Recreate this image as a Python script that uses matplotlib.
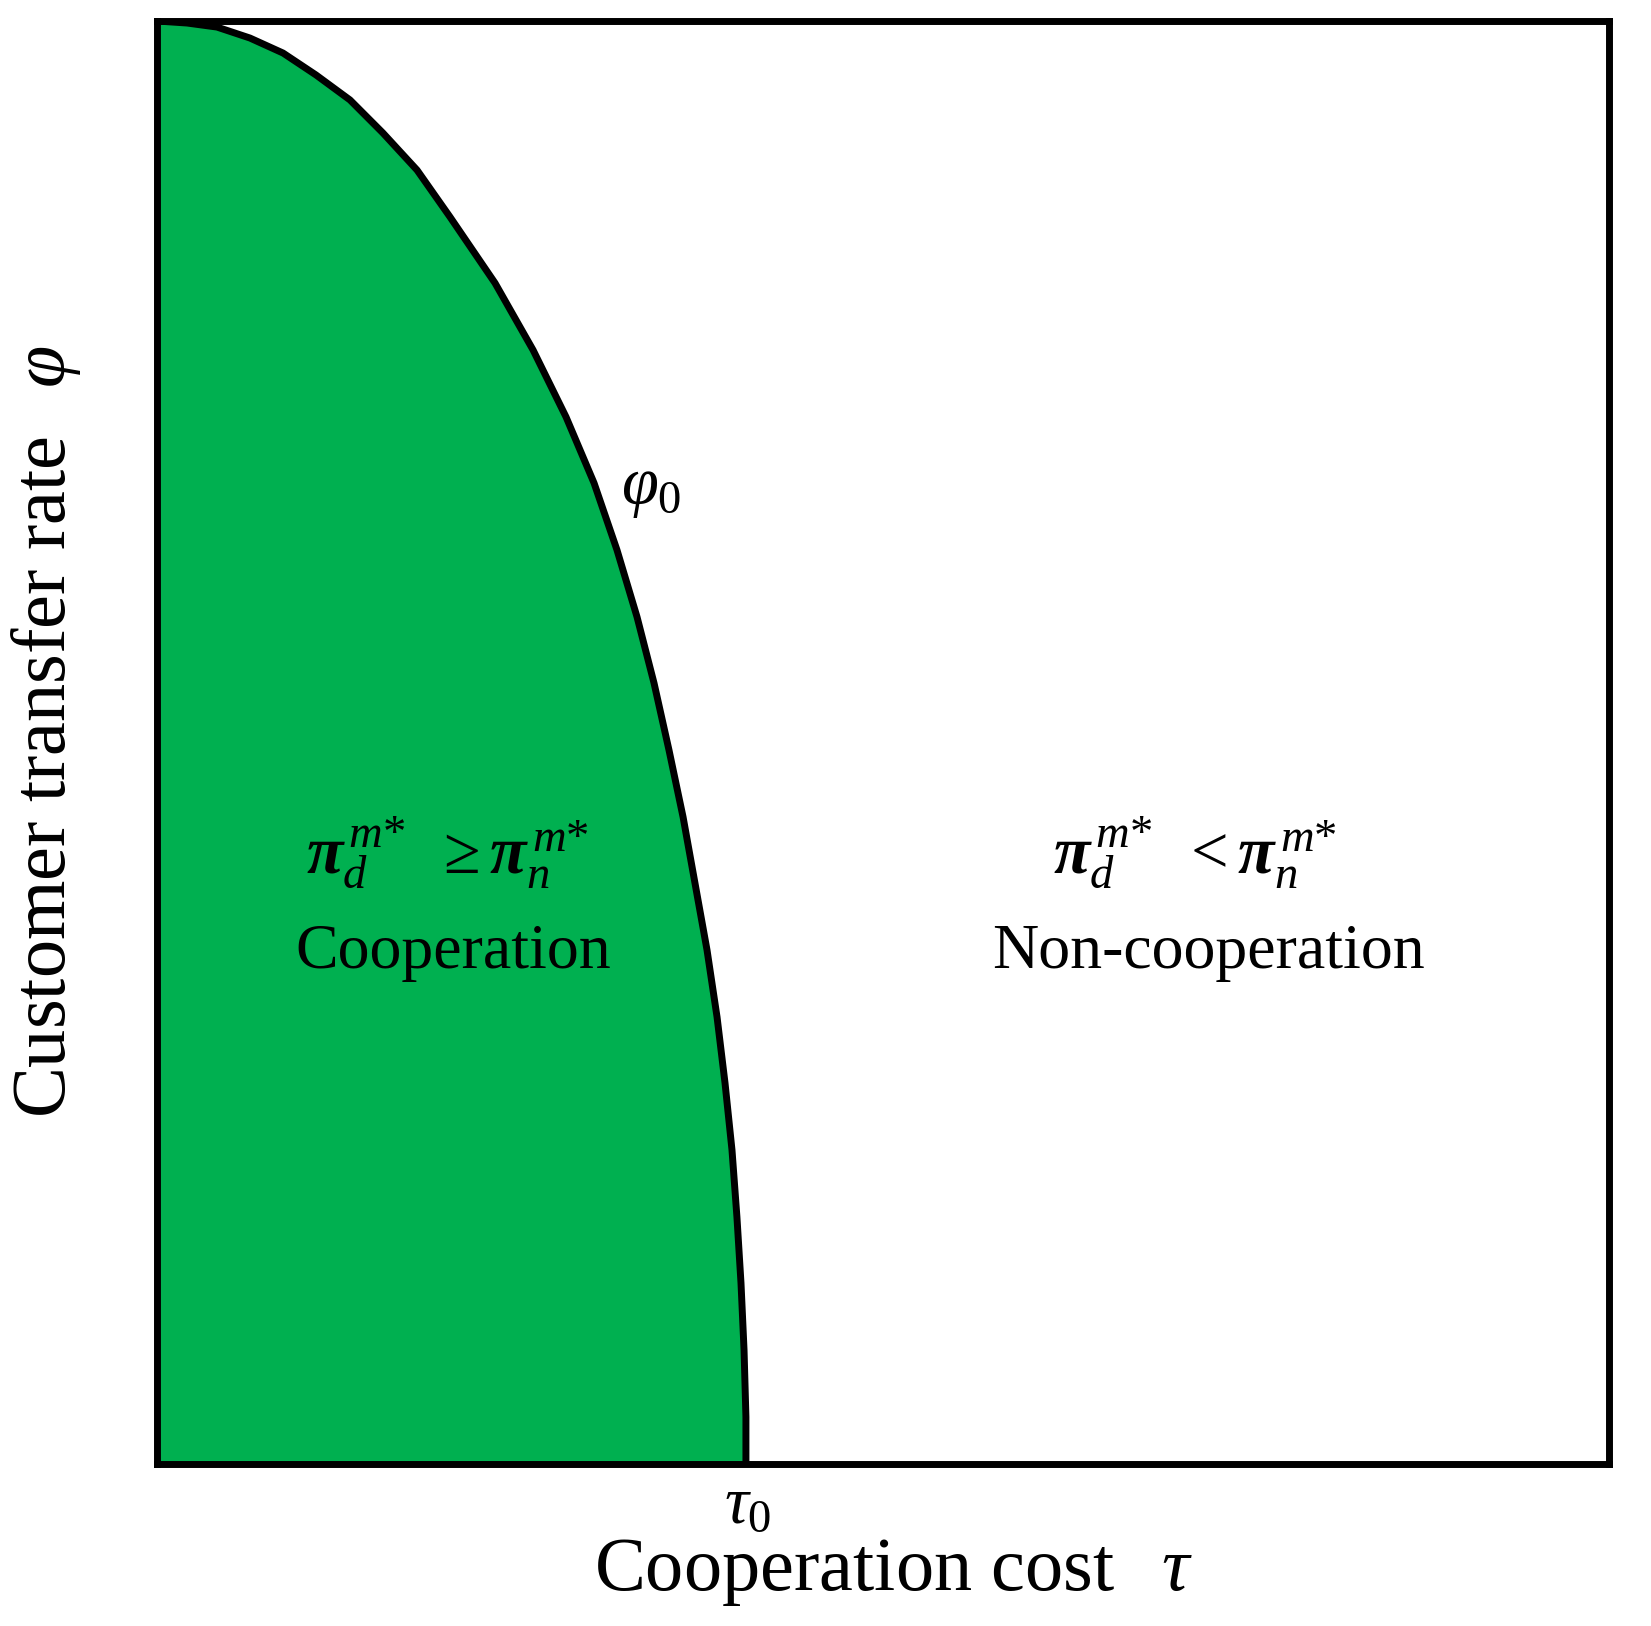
import matplotlib
matplotlib.use("Agg")
import matplotlib.pyplot as plt

# boundary curve phi0(tau) (tau and phi scaled to 0..1)
tau_curve = [0.0000, 0.0207, 0.0413, 0.0640, 0.0868, 0.1095, 0.1329, 0.1556,
             0.1791, 0.2018, 0.2328, 0.2590, 0.2817, 0.3010, 0.3168, 0.3306,
             0.3423, 0.3526, 0.3623, 0.3705, 0.3788, 0.3857, 0.3912, 0.3960,
             0.3994, 0.4022, 0.4043, 0.4056, 0.4056]
phi_curve = [1.0000, 0.9986, 0.9958, 0.9882, 0.9778, 0.9626, 0.9453, 0.9224,
             0.8967, 0.8642, 0.8184, 0.7720, 0.7256, 0.6798, 0.6334, 0.5870,
             0.5412, 0.4948, 0.4484, 0.4026, 0.3562, 0.3098, 0.2640, 0.2176,
             0.1712, 0.1254, 0.0790, 0.0326, 0.0000]

green = "#00B050"

plt.rcParams["font.family"] = ["Liberation Serif", "DejaVu Serif"]
plt.rcParams["mathtext.fontset"] = "custom"
plt.rcParams["mathtext.rm"] = "Liberation Serif"
plt.rcParams["mathtext.it"] = "Liberation Serif:italic"
plt.rcParams["mathtext.bf"] = "Liberation Serif:bold"
plt.rcParams["mathtext.bfit"] = "Liberation Serif:bold:italic"

W, H = 1651, 1626
fig = plt.figure(figsize=(W / 100, H / 100), dpi=100)
ax = fig.add_axes([157 / W, 1 - 1464 / H, 1452 / W, 1443 / H])

ax.fill_betweenx(phi_curve, 0, tau_curve, color=green, lw=0, zorder=1)
ax.plot(tau_curve, phi_curve, color="black", lw=5, solid_capstyle="butt",
        solid_joinstyle="round", zorder=2)

ax.set_xlim(0, 1)
ax.set_ylim(0, 1)
ax.set_xticks([])
ax.set_yticks([])
for s in ax.spines.values():
    s.set_linewidth(5)
    s.set_zorder(3)


def fx(px):
    return px / W


def fy(py):
    return 1 - py / H


# region labels
fig.text(fx(447), fy(853), r"$\mathbfit{\pi}_d^{\,m\text{*}}\;\;\geq\mathbfit{\pi}_n^{\,m\text{*}}$",
         fontsize=48, ha="center", va="center")
fig.text(fx(453), fy(953), "Cooperation", fontsize=46, ha="center", va="center")
fig.text(fx(1195), fy(853), r"$\mathbfit{\pi}_d^{\,m\text{*}}\;\;<\mathbfit{\pi}_n^{\,m\text{*}}$",
         fontsize=48, ha="center", va="center")
fig.text(fx(1208), fy(953), "Non-cooperation", fontsize=46, ha="center", va="center")

# curve annotations
fig.text(fx(651), fy(490), r"$\varphi_0$", fontsize=48, ha="center", va="center")
fig.text(fx(748), fy(1506), r"$\tau_0$", fontsize=48, ha="center", va="center")

# axis labels
fig.text(fx(893), fy(1572), r"Cooperation cost  $\,\tau$", fontsize=55,
         ha="center", va="center")
fig.text(fx(46), fy(732), r"Customer transfer rate  $\,\varphi$", fontsize=55,
         ha="center", va="center", rotation=90)

fig.savefig("out.png", dpi=100)
